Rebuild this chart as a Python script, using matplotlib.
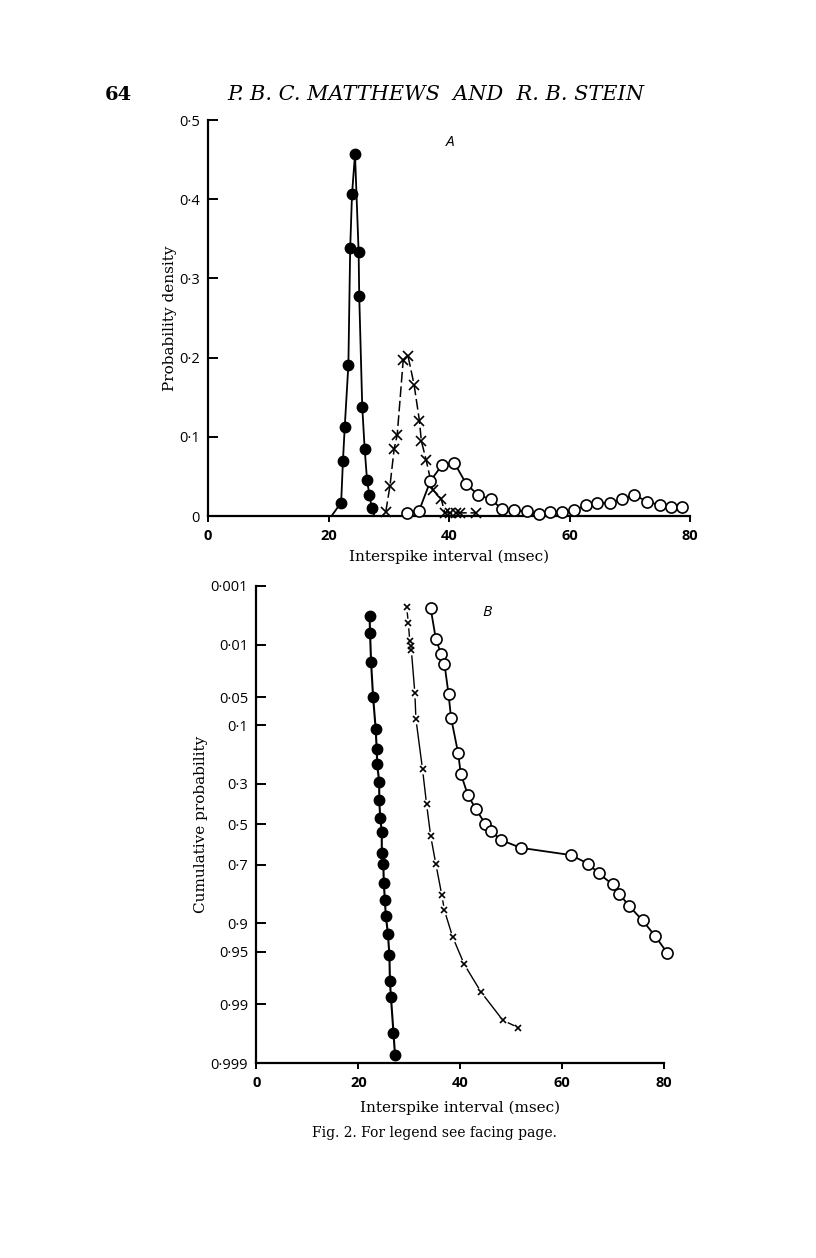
import numpy as np
import matplotlib
matplotlib.use('Agg')
import matplotlib.pyplot as plt
from statistics import NormalDist

# ---- panel A: probability density vs interspike interval
dot_t = [22.1, 22.4, 22.7, 23.3, 23.6, 23.9, 24.4, 25.0, 25.1, 25.6, 26.0, 26.4, 26.8, 27.2]
dot_p = [0.017, 0.070, 0.113, 0.191, 0.338, 0.406, 0.457, 0.333, 0.278, 0.138, 0.085, 0.045, 0.026, 0.010]
# where the drawn curve meets the baseline on either side
dot_ends_t = [20.5, 27.6]

crs_t = [29.5, 30.2, 30.9, 31.4, 32.4, 33.2, 34.2, 35.1, 35.4, 36.2, 37.3, 38.7, 39.3, 40.1, 41.1, 41.9, 44.5]
crs_p = [0.005, 0.038, 0.085, 0.102, 0.197, 0.202, 0.166, 0.120, 0.095, 0.071, 0.033, 0.022,
         0.004, 0.004, 0.004, 0.004, 0.004]

cir_t = [33.0, 35.0, 36.9, 38.9, 40.9, 42.9, 44.8, 46.9, 48.8, 50.8, 52.9, 55.0, 56.7, 58.7,
         60.8, 62.7, 64.6, 66.7, 68.7, 70.7, 72.9, 75.0, 76.8, 78.7]
cir_p = [0.004, 0.006, 0.044, 0.065, 0.067, 0.040, 0.027, 0.021, 0.009, 0.007, 0.006, 0.002,
         0.005, 0.005, 0.007, 0.014, 0.016, 0.017, 0.021, 0.027, 0.018, 0.014, 0.012, 0.011]

# ---- panel B: cumulative probability (probit scale)
cdot_t = [22.2, 22.3, 22.5, 22.9, 23.4, 23.6, 23.7, 24.1, 24.1, 24.3, 24.6, 24.6, 24.9, 25.0,
          25.2, 25.4, 25.8, 26.1, 26.2, 26.4, 26.9, 27.2]
cdot_p = [0.0035, 0.0066, 0.018, 0.050, 0.108, 0.164, 0.219, 0.292, 0.378, 0.465, 0.537, 0.643,
          0.694, 0.775, 0.836, 0.882, 0.921, 0.955, 0.9787, 0.9873, 0.9965, 0.9986]

ccrs_t = [29.5, 29.8, 30.1, 30.3, 30.4, 31.1, 31.3, 32.6, 33.4, 34.2, 35.2, 36.4, 36.9, 38.5,
          40.8, 44.1, 48.4, 51.4]
ccrs_p = [0.0025, 0.0045, 0.0089, 0.0105, 0.012, 0.045, 0.086, 0.238, 0.398, 0.56, 0.694, 0.821,
          0.867, 0.927, 0.965, 0.985, 0.9944, 0.9957]

ccir_t = [34.2, 35.2, 36.2, 36.9, 37.7, 38.2, 39.6, 40.1, 41.5, 43.1, 44.9, 46.1, 48.0, 51.9,
          61.7, 65.1, 67.2, 69.9, 71.2, 73.2, 75.8, 78.3, 80.6]
ccir_p = [0.0026, 0.0081, 0.0135, 0.0188, 0.0454, 0.0837, 0.179, 0.255, 0.352, 0.423, 0.496,
          0.535, 0.580, 0.619, 0.654, 0.694, 0.737, 0.781, 0.815, 0.855, 0.893, 0.926, 0.9515]

ya_ticks = [0, 0.1, 0.2, 0.3, 0.4, 0.5]
yb_ticks = [0.001, 0.01, 0.05, 0.1, 0.3, 0.5, 0.7, 0.9, 0.95, 0.99, 0.999]
x_ticks = [0, 20, 40, 60, 80]


def dotlabel(v):
    s = '0' if v == 0 else ('%g' % v)
    return s.replace('.', '\u00b7')


nd = NormalDist()
_inv = np.vectorize(nd.inv_cdf, otypes=[float])
_cdf = np.vectorize(nd.cdf, otypes=[float])


def probit(p):
    p = np.clip(np.asarray(p, dtype=float), 1e-9, 1 - 1e-9)
    return _inv(p)


def cdf(z):
    return _cdf(np.asarray(z, dtype=float))


serif = 'DejaVu Serif'
sans = 'Open Sans'

fig = plt.figure(figsize=(8.16, 12.58), dpi=100)
fig.patch.set_facecolor('white')

fig.text(0.145, 0.9245, '64', fontsize=14, fontweight='bold', family=serif, ha='center', va='center')
fig.text(0.534, 0.9245, 'P. B. C. MATTHEWS  AND  R. B. STEIN', fontsize=15, style='italic',
         family=serif, ha='center', va='center')
fig.text(0.532, 0.099, 'Fig. 2. For legend see facing page.', fontsize=10, family=serif,
         ha='center', va='center')


def style_axes(ax, xpad):
    for s in ['top', 'right']:
        ax.spines[s].set_visible(False)
    for s in ['left', 'bottom']:
        ax.spines[s].set_linewidth(1.6)
    ax.tick_params(axis='y', direction='in', length=7, width=1.4, pad=6)
    ax.tick_params(axis='x', direction='out', length=4, width=1.4, pad=5)
    ax.set_xticks(x_ticks)
    ax.set_xticklabels([str(t) for t in x_ticks], family=sans, fontweight='bold', fontsize=10.5)
    ax.set_xlabel('Interspike interval (msec)', family=serif, fontsize=11, labelpad=xpad)


# panel A
axA = fig.add_axes([0.2549, 0.5898, 0.5907, 0.3148])
axA.plot([dot_ends_t[0]] + dot_t + [dot_ends_t[1]], [0] + dot_p + [0], color='black', lw=1.3,
         clip_on=False, zorder=3)
axA.plot(dot_t, dot_p, ls='none', marker='o', ms=7.5, mfc='black', mec='black',
         clip_on=False, zorder=3)
axA.plot(crs_t, crs_p, color='black', lw=1.1, ls=(0, (7, 2.5)), marker='x', ms=6.5, mew=1.2,
         clip_on=False, zorder=3)
axA.plot(cir_t, cir_p, color='black', lw=1.3, marker='o', ms=8, mfc='white', mec='black', mew=1.2,
         clip_on=False, zorder=4)
axA.set_xlim(0, 80)
axA.set_ylim(0, 0.5)
style_axes(axA, 5)
axA.set_yticks(ya_ticks)
axA.set_yticklabels([dotlabel(v) for v in ya_ticks], family=sans, fontsize=10.5)
axA.set_ylabel('Probability density', family=serif, fontsize=11, labelpad=1)
axA.text(40.2, 0.472, 'A', family=sans, style='italic', fontsize=11, ha='center', va='center')

# panel B
axB = fig.add_axes([0.3143, 0.1548, 0.4994, 0.3797])
axB.set_yscale('function', functions=(probit, cdf))
axB.plot(cdot_t, cdot_p, color='black', lw=1.5, marker='o', ms=7.5, mfc='black', mec='black',
         clip_on=False, zorder=3)
axB.plot(ccrs_t, ccrs_p, color='black', lw=1.0, ls='none', marker='o', ms=7, mfc='white',
         mec='none', clip_on=False, zorder=2)
axB.plot(ccrs_t, ccrs_p, color='black', lw=1.0, zorder=1, clip_on=False)
axB.plot(ccrs_t, ccrs_p, ls='none', color='black', marker='x', ms=4.5, mew=1.2,
         clip_on=False, zorder=3)
axB.plot(ccir_t, ccir_p, color='black', lw=1.3, marker='o', ms=8, mfc='white', mec='black', mew=1.2,
         clip_on=False, zorder=4)
axB.set_xlim(0, 80)
axB.set_ylim(0.999, 0.001)
style_axes(axB, 8)
axB.set_yticks(yb_ticks)
axB.set_yticklabels([dotlabel(v) for v in yb_ticks], family=sans, fontsize=10.5)
axB.yaxis.set_minor_locator(matplotlib.ticker.NullLocator())
axB.set_ylabel('Cumulative probability', family=serif, fontsize=11, labelpad=2)
axB.text(45.3, 0.0031, 'B', family=sans, style='italic', fontsize=11, ha='center', va='center')

fig.savefig('out.png', dpi=100)
